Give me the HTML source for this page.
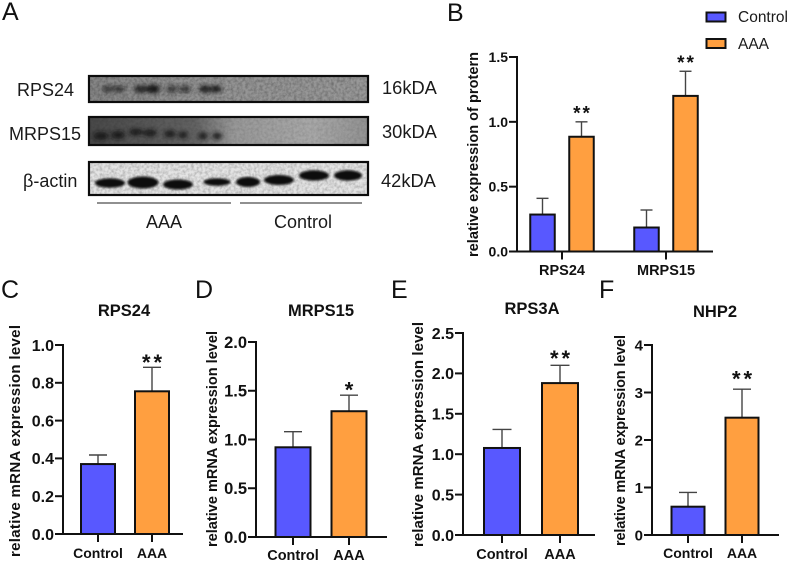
<!DOCTYPE html>
<html lang="en">
<head>
<meta charset="utf-8">
<title>Western blot and expression bar charts</title>
<style>
html,body{margin:0;padding:0;background:#fff;}
body{width:789px;height:563px;overflow:hidden;}
svg{display:block;font-family:"Liberation Sans",sans-serif;filter:blur(.35px);}
</style>
</head>
<body>
<svg id="figure" width="789" height="563" viewBox="0 0 789 563" xmlns="http://www.w3.org/2000/svg">
  <defs>
    <filter id="b1" x="-40%" y="-80%" width="180%" height="260%"><feGaussianBlur stdDeviation="2.1"/></filter>
    <filter id="b2" x="-30%" y="-60%" width="160%" height="220%"><feGaussianBlur stdDeviation="1"/></filter>
    <filter id="noise" x="0" y="0" width="100%" height="100%">
      <feTurbulence type="fractalNoise" baseFrequency="0.35" numOctaves="2" seed="4"/>
      <feColorMatrix type="matrix" values="0 0 0 0 0  0 0 0 0 0  0 0 0 0 0  1.6 0 0 0 -0.55"/>
    </filter>
    <linearGradient id="g1" x1="0" x2="1" y1="0" y2="0">
      <stop offset="0" stop-color="#868686"/><stop offset=".45" stop-color="#949494"/><stop offset="1" stop-color="#989898"/>
    </linearGradient>
    <linearGradient id="g2" x1="0" x2="1" y1="0" y2="0">
      <stop offset="0" stop-color="#484848"/><stop offset=".38" stop-color="#626262"/><stop offset=".52" stop-color="#989898"/><stop offset=".8" stop-color="#a8a8a8"/><stop offset="1" stop-color="#929292"/>
    </linearGradient>
    <clipPath id="c1"><rect x="89" y="76" width="279" height="26"/></clipPath>
    <clipPath id="c2"><rect x="89" y="117" width="279" height="28"/></clipPath>
    <clipPath id="c3"><rect x="89" y="162" width="279" height="33"/></clipPath>
  </defs>
  <rect width="789" height="563" fill="#fff"/>

  <g>
    <text x="2" y="20" font-size="25" fill="#111">A</text>
    <g>
      <rect x="89" y="76" width="279" height="26" fill="url(#g1)"/>
      <g clip-path="url(#c1)" filter="url(#b1)" fill="#161616">
        <ellipse cx="108" cy="89" rx="6" ry="3" opacity=".7"/><ellipse cx="119" cy="89" rx="6" ry="3" opacity=".7"/>
        <ellipse cx="141" cy="89" rx="7" ry="3.6" opacity=".9"/><ellipse cx="153" cy="89" rx="7" ry="4.2"/>
        <ellipse cx="172" cy="89" rx="6" ry="3.2" opacity=".7"/><ellipse cx="185" cy="89" rx="6" ry="3.2" opacity=".7"/>
        <ellipse cx="205" cy="89" rx="6" ry="3.6" opacity=".95"/><ellipse cx="216" cy="89" rx="6" ry="3.6" opacity=".95"/>
      </g>
      <rect x="89" y="76" width="279" height="26" filter="url(#noise)" opacity=".3" clip-path="url(#c1)"/>
      <rect x="89" y="76" width="279" height="26" fill="none" stroke="#0c0c0c" stroke-width="2.2"/>
    </g>
    <g>
      <rect x="89" y="117" width="279" height="28" fill="url(#g2)"/>
      <g clip-path="url(#c2)" filter="url(#b1)" fill="#181818" opacity=".9">
        <ellipse cx="101" cy="136" rx="8" ry="4"/><ellipse cx="118" cy="135" rx="7" ry="4"/>
        <ellipse cx="136" cy="132" rx="7" ry="3.4"/><ellipse cx="150" cy="133" rx="7" ry="3.6"/>
        <ellipse cx="170" cy="134" rx="6" ry="3.6"/><ellipse cx="183" cy="135" rx="5" ry="3.4"/>
        <ellipse cx="203" cy="136" rx="5" ry="3.6"/><ellipse cx="217" cy="136" rx="5" ry="3.6"/>
      </g>
      <rect x="89" y="117" width="279" height="28" filter="url(#noise)" opacity=".14" clip-path="url(#c2)"/>
      <rect x="89" y="117" width="279" height="28" fill="none" stroke="#0c0c0c" stroke-width="2.2"/>
    </g>
    <g>
      <rect x="89" y="162" width="279" height="33" fill="#e4e4e4"/>
      <rect x="89" y="162" width="279" height="33" filter="url(#noise)" opacity=".25" clip-path="url(#c3)"/>
      <g clip-path="url(#c3)" filter="url(#b2)" fill="#070707">
        <ellipse cx="110" cy="183" rx="15" ry="4.8"/><ellipse cx="143" cy="182.5" rx="15.5" ry="6"/>
        <ellipse cx="178" cy="184.5" rx="15" ry="5"/><ellipse cx="217" cy="182" rx="13.5" ry="3.8"/>
        <ellipse cx="248" cy="182" rx="12" ry="5"/><ellipse cx="279" cy="180" rx="15" ry="5"/>
        <ellipse cx="314" cy="175.5" rx="15" ry="5.2"/><ellipse cx="348" cy="175.5" rx="14" ry="5.2"/>
      </g>
      <rect x="89" y="162" width="279" height="33" fill="none" stroke="#0c0c0c" stroke-width="2.2"/>
    </g>
    <g font-size="18" fill="#1a1a1a">
      <text x="17" y="96">RPS24</text>
      <text x="9" y="140">MRPS15</text>
      <text x="23" y="187">β-actin</text>
      <text x="382" y="94" font-size="18.3">16kDA</text>
      <text x="382" y="138" font-size="18.3">30kDA</text>
      <text x="381" y="187" font-size="18.3">42kDA</text>
      <text x="146" y="228">AAA</text>
      <text x="274" y="228">Control</text>
    </g>
    <line x1="97" x2="231" y1="203" y2="203" stroke="#222" stroke-width="1"/>
    <line x1="240" x2="362" y1="203" y2="203" stroke="#222" stroke-width="1"/>
  </g>

  <g>
    <g>
      <rect x="706.5" y="12.5" width="19" height="9" fill="#5858ff" stroke="#111" stroke-width="2"/>
      <text x="738" y="22" font-size="15.5" fill="#1a1a1a">Control</text>
    </g>
    <g>
      <rect x="706.5" y="39" width="19" height="9" fill="#ff9f40" stroke="#111" stroke-width="2"/>
      <text x="738" y="49" font-size="15.5" fill="#1a1a1a">AAA</text>
    </g>
  </g>

  <text x="447" y="21" font-size="25" fill="#111">B</text>
  <text x="1" y="298" font-size="25" fill="#111">C</text>
  <text x="195" y="298" font-size="25" fill="#111">D</text>
  <text x="391" y="298" font-size="25" fill="#111">E</text>
  <text x="599" y="298" font-size="25" fill="#111">F</text>
  <g id="charts"></g>
</svg>

<script>
// Chart data
const bCategories = ['RPS24', 'MRPS15'];
const bControl = [0.285, 0.185];
const bControlErr = [0.125, 0.135];
const bAAA = [0.885, 1.2];
const bAAAErr = [0.115, 0.19];
const bTicks = ['0.0', '0.5', '1.0', '1.5'];
const bSig = ['**', '**'];

const geneCategories = ['Control', 'AAA'];

const cValues = [0.37, 0.755];
const cErrors = [0.048, 0.127];
const cTicks = ['0.0', '0.2', '0.4', '0.6', '0.8', '1.0'];
const cSig = ['', '**'];

const dValues = [0.92, 1.29];
const dErrors = [0.16, 0.165];
const dTicks = ['0.0', '0.5', '1.0', '1.5', '2.0'];
const dSig = ['', '*'];

const eValues = [1.077, 1.88];
const eErrors = [0.23, 0.22];
const eTicks = ['0.0', '0.5', '1.0', '1.5', '2.0', '2.5'];
const eSig = ['', '**'];

const fValues = [0.596, 2.47];
const fErrors = [0.3, 0.6];
const fTicks = ['0', '1', '2', '3', '4'];
const fSig = ['', '**'];

const BLUE = '#5858ff';
const ORANGE = '#ff9f40';
const INK = '#111';
const NS = 'http://www.w3.org/2000/svg';
const root = document.getElementById('charts');

function mk(parent, tag, attrs, text) {
  const el = document.createElementNS(NS, tag);
  for (const k in attrs) el.setAttribute(k, attrs[k]);
  if (text !== undefined) el.textContent = text;
  parent.appendChild(el);
  return el;
}

function drawAxes(g, L, ticks, yScale, xCenters, labels) {
  const axisY = mk(g, 'line', {x1: L.x0, x2: L.x0, y1: L.yTop - 1, y2: L.y0 + 1, stroke: INK, 'stroke-width': 2});
  
  
  const axisX = mk(g, 'line', {x1: L.x0 - 8, x2: L.xEnd, y1: L.y0, y2: L.y0, stroke: INK, 'stroke-width': 2});
  
  
  ticks.forEach(function (t) {
    const y = yScale(parseFloat(t));
    const tick = mk(g, 'line', {x1: L.x0 - 8, x2: L.x0, y1: y, y2: y, stroke: INK, 'stroke-width': 2});
    
    
    const label = mk(g, 'text', {x: L.x0 - 9, y: y + L.tickFont * 0.36, 'text-anchor': 'end', 'font-size': L.tickFont, 'font-weight': 'bold', fill: INK}, t);
    
    
  });
  labels.forEach(function (c, i) {
    const x = xCenters(i);
    const tick = mk(g, 'line', {x1: x, x2: x, y1: L.y0, y2: L.y0 + 8, stroke: INK, 'stroke-width': 2});
    
    
    const label = mk(g, 'text', {x: x, y: L.labelY, 'text-anchor': 'middle', 'font-size': L.labelFont, 'font-weight': 'bold', fill: INK}, c);
    
    
  });
  const yt = mk(g, 'text', {
    transform: 'translate(' + L.titleX + ',' + L.titleBottom + ') rotate(-90)',
    'font-size': L.titleFont, 'font-weight': 'bold', fill: INK,
    textLength: L.titleLen, lengthAdjust: 'spacing'
  }, L.yTitle);
  
  
}

function drawBar(g, cx, width, value, err, sig, color, yScale, L) {
  const top = yScale(value);
  const errTop = yScale(value + err);
  const stem = mk(g, 'line', {x1: cx, x2: cx, y1: top, y2: errTop, stroke: '#444', 'stroke-width': 1.4});
  
  
  const cap = mk(g, 'line', {x1: cx - L.cap, x2: cx + L.cap, y1: errTop, y2: errTop, stroke: '#444', 'stroke-width': 1.4});
  
  
  const bar = mk(g, 'rect', {x: cx - width / 2, y: top, width: width, height: L.y0 - top, fill: color, stroke: INK, 'stroke-width': 2});
  
  
  if (sig) {
    const star = mk(g, 'text', {x: cx + L.starGap / 2, y: errTop - L.sigGap + L.starFont * 0.57, 'text-anchor': 'middle', 'font-size': L.starFont, 'font-weight': 'bold', 'letter-spacing': L.starGap, fill: INK}, sig);
    
    
  }
}

function drawSimple(name, L, title, values, errors, ticks, sig) {
  const g = mk(root, 'g', {});
  
  
  const maxV = parseFloat(ticks[ticks.length - 1]);
  const yScale = function (v) { return L.y0 - v / maxV * (L.y0 - L.yTop); };
  const xCenters = function (i) { return L.first + i * L.step; };
  drawAxes(g, L, ticks, yScale, xCenters, geneCategories);
  const colors = [BLUE, ORANGE];
  values.forEach(function (v, i) {
    drawBar(g, xCenters(i), L.barW, v, errors[i], sig[i], colors[i], yScale, L);
  });
  const t = mk(g, 'text', {x: L.titleCx, y: L.chartTitleY, 'text-anchor': 'middle', 'font-size': 16.5, 'font-weight': 'bold', fill: INK}, title);
  
  
}

function drawGrouped() {
  const L = {x0: 517, xEnd: 713, y0: 251.5, yTop: 57, tickFont: 14, labelFont: 14.5, labelY: 275,
    titleX: 478, titleBottom: 257, titleLen: 205, titleFont: 14.5, yTitle: 'relative expression of protern',
    first: 562, step: 104, barW: 24.5, offset: 19.5, cap: 6, sigGap: 13, starFont: 19, starGap: 2};
  const g = mk(root, 'g', {});
  
  
  const maxV = parseFloat(bTicks[bTicks.length - 1]);
  const yScale = function (v) { return L.y0 - v / maxV * (L.y0 - L.yTop); };
  const xCenters = function (i) { return L.first + i * L.step; };
  drawAxes(g, L, bTicks, yScale, xCenters, bCategories);
  bCategories.forEach(function (c, i) {
    drawBar(g, xCenters(i) - L.offset, L.barW, bControl[i], bControlErr[i], '', BLUE, yScale, L);
    drawBar(g, xCenters(i) + L.offset, L.barW, bAAA[i], bAAAErr[i], bSig[i], ORANGE, yScale, L);
  });
}

drawGrouped();

drawSimple('panel-c-rps24-chart',
  {x0: 63, xEnd: 183, y0: 534, yTop: 345, tickFont: 16, labelFont: 14, labelY: 558,
   titleX: 20, titleBottom: 557, titleLen: 232, titleFont: 15, yTitle: 'relative mRNA expression level',
   first: 98, step: 54, barW: 34, cap: 9, sigGap: 10, starFont: 22, starGap: 3, titleCx: 124, chartTitleY: 316},
  'RPS24', cValues, cErrors, cTicks, cSig);

drawSimple('panel-d-mrps15-chart',
  {x0: 256, xEnd: 387, y0: 537, yTop: 342, tickFont: 16.5, labelFont: 14.5, labelY: 560,
   titleX: 217, titleBottom: 547, titleLen: 216, titleFont: 14.5, yTitle: 'relative mRNA expression level',
   first: 293, step: 56, barW: 35, cap: 9, sigGap: 10, starFont: 22, starGap: 0, titleCx: 321, chartTitleY: 316},
  'MRPS15', dValues, dErrors, dTicks, dSig);

drawSimple('panel-e-rps3a-chart',
  {x0: 463, xEnd: 595, y0: 535, yTop: 333, tickFont: 16, labelFont: 14.5, labelY: 559,
   titleX: 423, titleBottom: 547, titleLen: 225, titleFont: 15, yTitle: 'relative mRNA expression level',
   first: 502, step: 58, barW: 36, cap: 9.5, sigGap: 12, starFont: 22, starGap: 3, titleCx: 532, chartTitleY: 314},
  'RPS3A', eValues, eErrors, eTicks, eSig);

drawSimple('panel-f-nhp2-chart',
  {x0: 652, xEnd: 779, y0: 535, yTop: 345, tickFont: 15, labelFont: 14, labelY: 558,
   titleX: 625, titleBottom: 546, titleLen: 211, titleFont: 14.5, yTitle: 'relative mRNA expression level',
   first: 688, step: 54, barW: 33, cap: 9, sigGap: 15, starFont: 22, starGap: 3, titleCx: 715, chartTitleY: 317},
  'NHP2', fValues, fErrors, fTicks, fSig);
</script>
</body>
</html>
